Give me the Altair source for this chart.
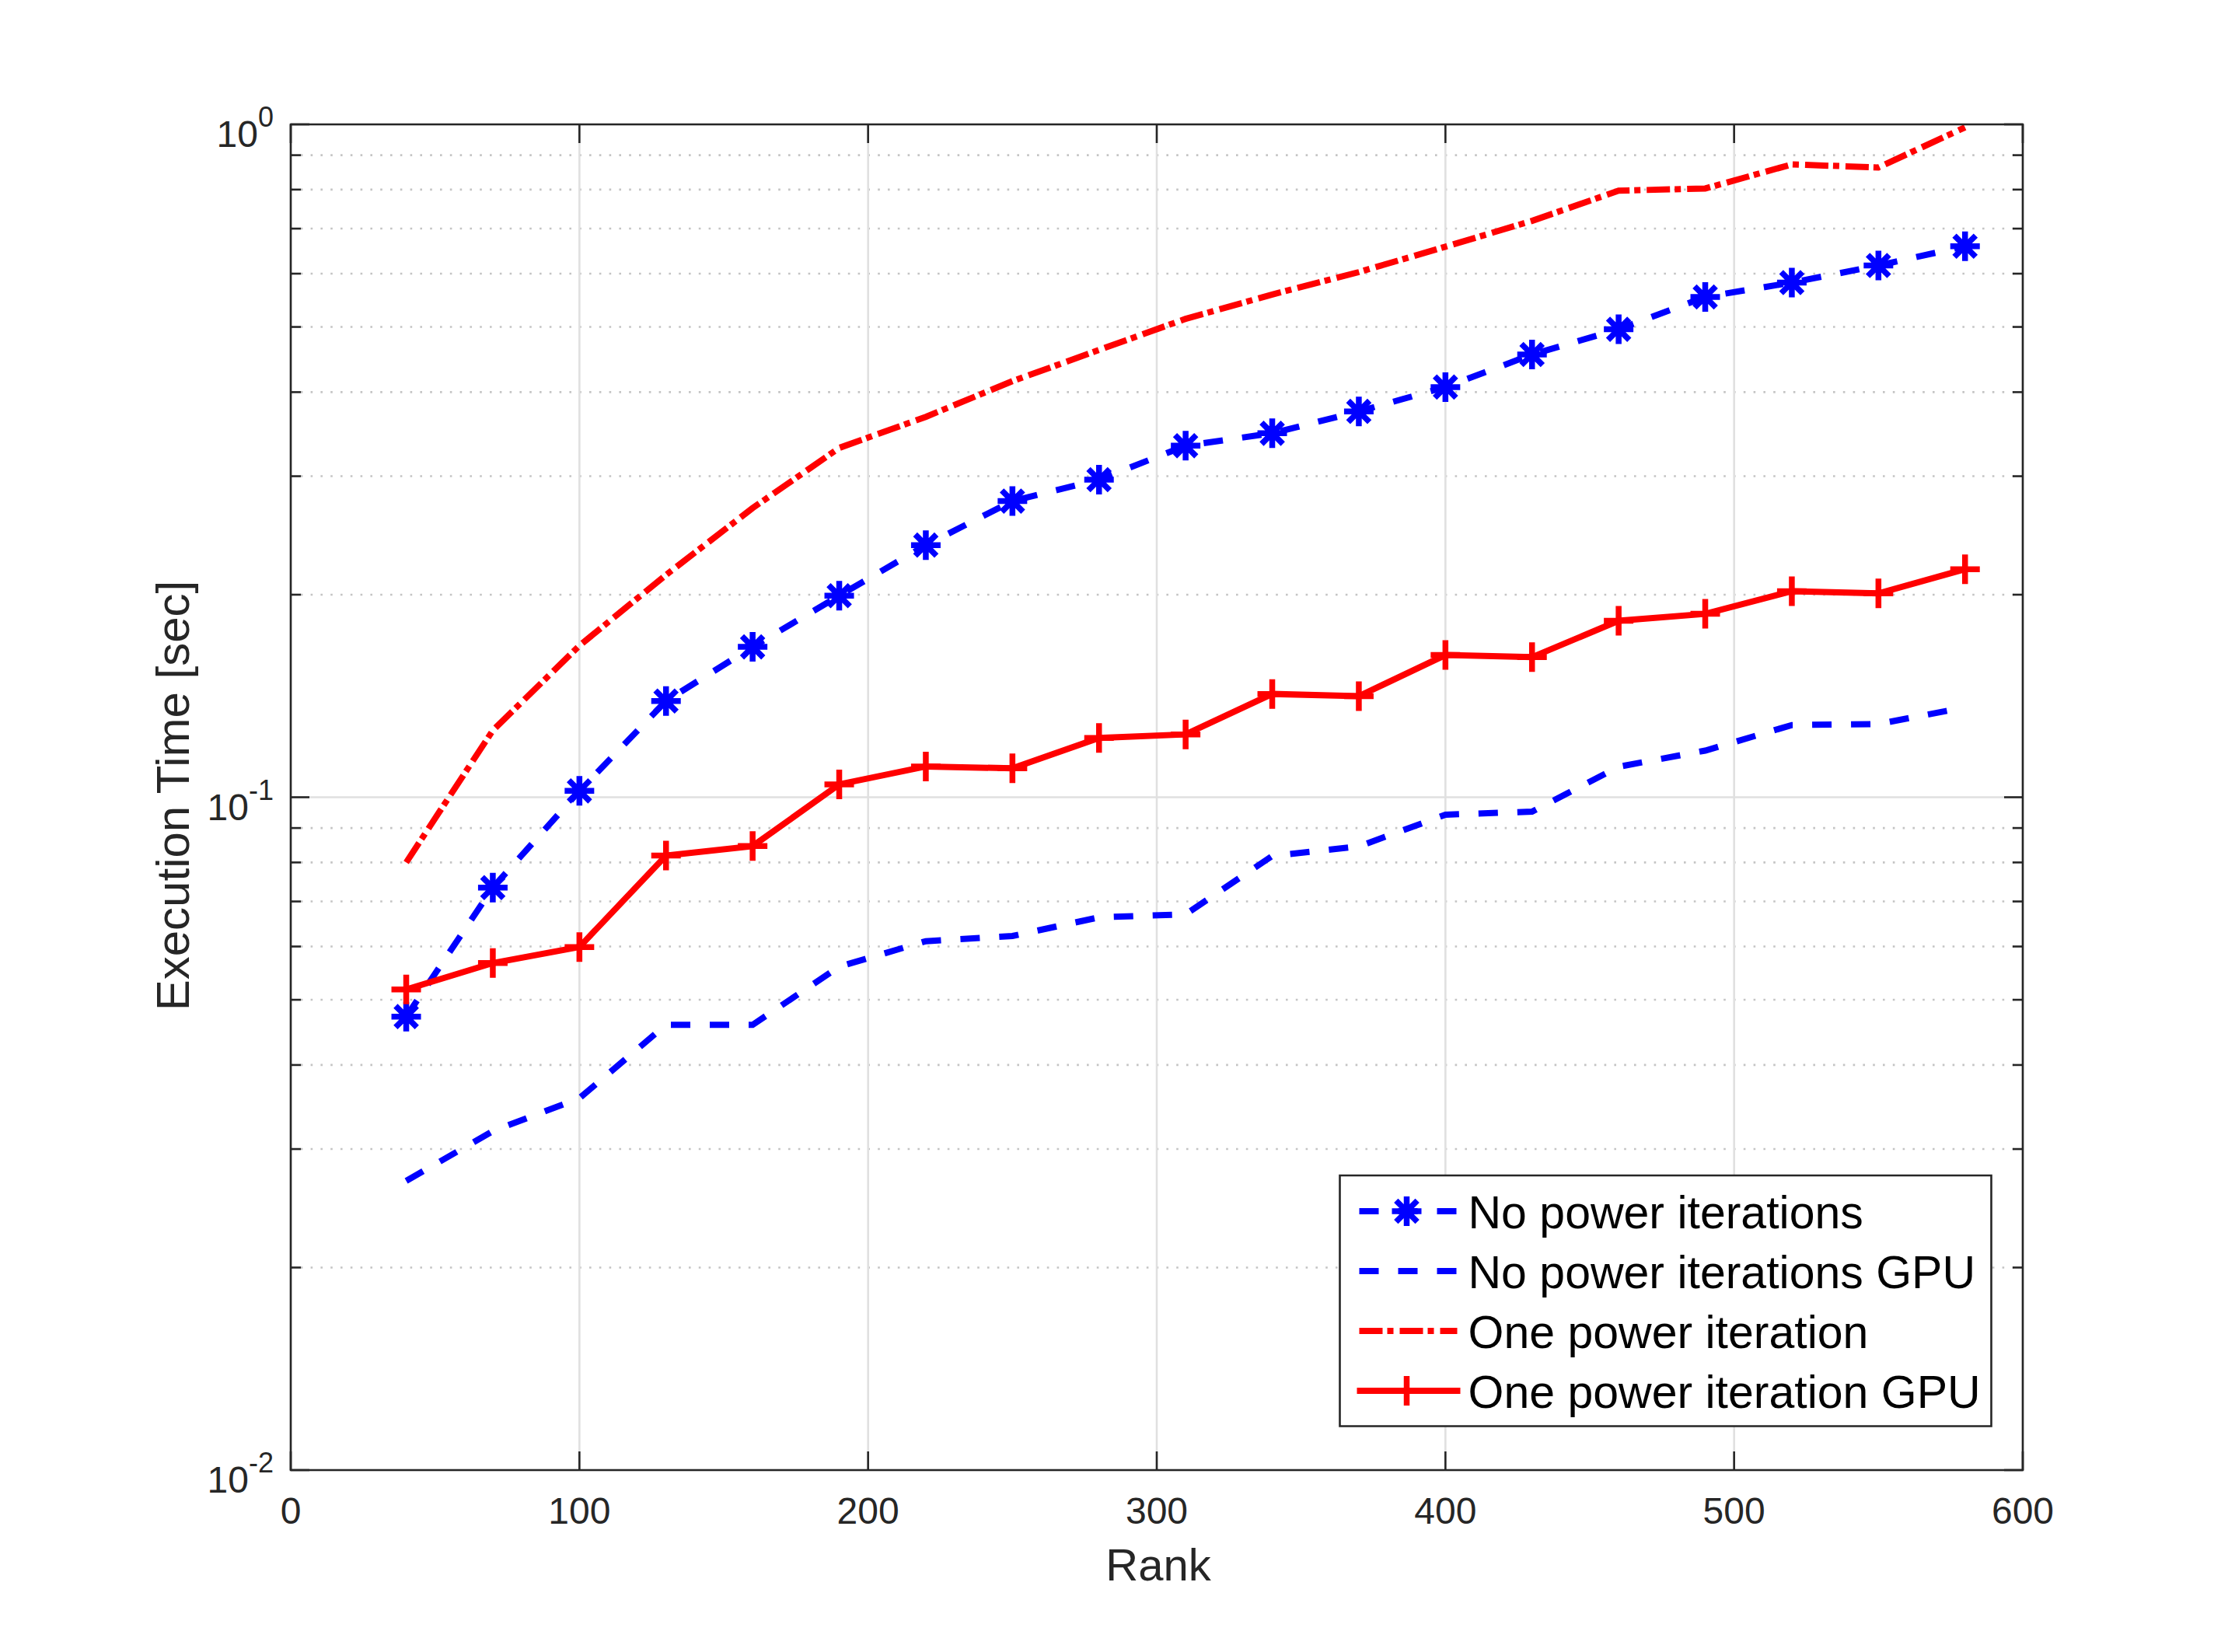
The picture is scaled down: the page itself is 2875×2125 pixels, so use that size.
import altair as alt
import pandas as pd

# ---------------- data ----------------
rank = [40, 70, 100, 130, 160, 190, 220, 250, 280, 310, 340, 370, 400, 430, 460, 490, 520, 550, 580]
no_power = [0.0472, 0.0734, 0.1022, 0.1390, 0.1673, 0.1993, 0.2370, 0.2755, 0.2965, 0.3330,
            0.3475, 0.3745, 0.4070, 0.4550, 0.4960, 0.5540, 0.5820, 0.6170, 0.6590]
no_power_gpu = [0.0269, 0.0319, 0.0357, 0.0459, 0.0459, 0.0560, 0.0611, 0.0622, 0.0663, 0.0670,
                0.0818, 0.0845, 0.0942, 0.0952, 0.1110, 0.1173, 0.1280, 0.1285, 0.1360]
one_power = [0.0800, 0.1257, 0.1680, 0.2140, 0.2690, 0.3305, 0.3676, 0.4153, 0.4622, 0.5140,
             0.5587, 0.6032, 0.6580, 0.7188, 0.7970, 0.8030, 0.8720, 0.8630, 0.9900]
one_power_gpu = [0.0518, 0.0567, 0.0599, 0.0819, 0.0846, 0.1045, 0.1111, 0.1104, 0.1225, 0.1240,
                 0.1424, 0.1413, 0.1627, 0.1615, 0.1829, 0.1873, 0.2024, 0.2009, 0.2182]

series_names = ["No power iterations", "No power iterations GPU",
                "One power iteration", "One power iteration GPU"]

x_ticks = [0, 100, 200, 300, 400, 500, 600]
y_major = [0.01, 0.1, 1.0]
y_exp = ["-2", "-1", "0"]
y_minor = [0.02, 0.03, 0.04, 0.05, 0.06, 0.07, 0.08, 0.09,
           0.2, 0.3, 0.4, 0.5, 0.6, 0.7, 0.8, 0.9]

x_title = "Rank"
y_title = "Execution Time [sec]"

# ---------------- styling ----------------
W, H = 2228, 1731
FONT = "Liberation Sans"
AX = "#262626"
BLUE = "#0000ff"
RED = "#ff0000"
LW = 8
MW = 7.5
STAR = "M0,-1L0,1M-1,0L1,0M-0.72,-0.72L0.72,0.72M-0.72,0.72L0.72,-0.72"
PLUS = "M0,-1L0,1M-1,0L1,0"
DASH = [25, 25]
DASHDOT = [30, 6, 8, 8]

xs = alt.Scale(domain=[0, 600], nice=False, zero=False)
ys = alt.Scale(type="log", domain=[0.01, 1], nice=False)


def X(f):
    return alt.X(f, scale=xs, axis=None)


def Y(f):
    return alt.Y(f, scale=ys, axis=None)


df_xt = pd.DataFrame({"v": x_ticks})
df_ymaj = pd.DataFrame({"v": y_major, "e": y_exp})
df_ymin = pd.DataFrame({"v": y_minor})
one = pd.DataFrame({"k": [0]})

layers = []

# grid
layers.append(alt.Chart(df_ymin).mark_rule(color="#c4c4c4", strokeWidth=2.6, strokeDash=[2.6, 10.2])
              .encode(y=Y("v:Q"), x=alt.value(0), x2=alt.value(W)))
layers.append(alt.Chart(df_ymaj).mark_rule(color="#e0e0e0", strokeWidth=2.6)
              .encode(y=Y("v:Q"), x=alt.value(0), x2=alt.value(W)))
layers.append(alt.Chart(df_xt).mark_rule(color="#e0e0e0", strokeWidth=2.6)
              .encode(x=X("v:Q"), y=alt.value(0), y2=alt.value(H)))

# ticks (inward)
for y0, y1 in [(H, H - 24), (0, 24)]:
    layers.append(alt.Chart(df_xt).mark_rule(color=AX, strokeWidth=2.6)
                  .encode(x=X("v:Q"), y=alt.value(y0), y2=alt.value(y1)))
for x0, x1 in [(0, 24), (W, W - 24)]:
    layers.append(alt.Chart(df_ymaj).mark_rule(color=AX, strokeWidth=2.6)
                  .encode(y=Y("v:Q"), x=alt.value(x0), x2=alt.value(x1)))
for x0, x1 in [(0, 13), (W, W - 13)]:
    layers.append(alt.Chart(df_ymin).mark_rule(color=AX, strokeWidth=2.6)
                  .encode(y=Y("v:Q"), x=alt.value(x0), x2=alt.value(x1)))

# data series
series = [
    (no_power, BLUE, DASH, STAR),
    (no_power_gpu, BLUE, DASH, None),
    (one_power, RED, DASHDOT, None),
    (one_power_gpu, RED, None, PLUS),
]
for vals, col, dash, marker in series:
    d = pd.DataFrame({"rank": rank, "time": vals})
    lk = dict(color=col, strokeWidth=LW)
    if dash:
        lk["strokeDash"] = dash
    layers.append(alt.Chart(d).mark_line(**lk).encode(x=X("rank:Q"), y=Y("time:Q")))
    if marker:
        layers.append(alt.Chart(d).mark_point(shape=marker, size=1444, filled=False, stroke=col,
                                              strokeWidth=MW, opacity=1)
                      .encode(x=X("rank:Q"), y=Y("time:Q")))

# box
layers.append(alt.Chart(one).mark_rect(fillOpacity=0, stroke=AX, strokeWidth=2.6)
              .encode(x=alt.value(0), x2=alt.value(W), y=alt.value(0), y2=alt.value(H)))

# tick labels
layers.append(alt.Chart(df_xt).mark_text(font=FONT, fontSize=48, color=AX, align="center",
                                         baseline="alphabetic")
              .encode(x=X("v:Q"), y=alt.value(H + 69), text=alt.Text("v:Q", format="d")))
layers.append(alt.Chart(df_ymaj).transform_filter("datum.e == '0'")
              .mark_text(font=FONT, fontSize=48, color=AX, align="right", baseline="alphabetic",
                         dx=-42, dy=29)
              .encode(y=Y("v:Q"), x=alt.value(0), text=alt.value("10")))
layers.append(alt.Chart(df_ymaj).transform_filter("datum.e != '0'")
              .mark_text(font=FONT, fontSize=48, color=AX, align="right", baseline="alphabetic",
                         dx=-54, dy=29)
              .encode(y=Y("v:Q"), x=alt.value(0), text=alt.value("10")))
layers.append(alt.Chart(df_ymaj)
              .mark_text(font=FONT, fontSize=36, color=AX, align="right", baseline="alphabetic",
                         dx=-22, dy=3)
              .encode(y=Y("v:Q"), x=alt.value(0), text="e:N"))

# axis titles
layers.append(alt.Chart(one).mark_text(font=FONT, fontSize=58, color=AX, align="center",
                                       baseline="alphabetic")
              .encode(x=alt.value(W / 2 + 2), y=alt.value(H + 142), text=alt.value(x_title)))
layers.append(alt.Chart(one).mark_text(font=FONT, fontSize=60, color=AX, align="center",
                                       baseline="alphabetic", angle=270)
              .encode(x=alt.value(-131), y=alt.value(H / 2 - 2), text=alt.value(y_title)))

# legend
LX0, LX1, LY0, LY1 = 1349.5, 2187.5, 1352, 1674.5
layers.append(alt.Chart(one).mark_rect(fill="white", stroke=AX, strokeWidth=2.6)
              .encode(x=alt.value(LX0), x2=alt.value(LX1), y=alt.value(LY0), y2=alt.value(LY1)))
rows = [1398, 1475, 1552, 1629]
for (vals, col, dash, marker), name, ry in zip(series, series_names, rows):
    lk = dict(color=col, strokeWidth=LW)
    if dash:
        lk["strokeDash"] = dash
        xa, xb = 1374.5, 1500.5
    else:
        xa, xb = 1371.5, 1504.5
    layers.append(alt.Chart(one).mark_rule(**lk)
                  .encode(x=alt.value(xa), x2=alt.value(xb), y=alt.value(ry)))
    if marker:
        layers.append(alt.Chart(one).mark_point(shape=marker, size=1444, filled=False, stroke=col,
                                                strokeWidth=MW, opacity=1)
                      .encode(x=alt.value(1435.5), y=alt.value(ry)))
    layers.append(alt.Chart(pd.DataFrame({"name": [name]}))
                  .mark_text(font=FONT, fontSize=59, color="black", align="left",
                             baseline="alphabetic")
                  .encode(x=alt.value(1514.5), y=alt.value(ry + 22), text="name:N"))

chart = (alt.layer(*layers)
         .properties(width=W, height=H,
                     padding={"left": 366, "top": 152, "right": 260, "bottom": 220},
                     autosize=alt.AutoSizeParams(type="none"),
                     background="white")
         .configure_view(stroke=None))

chart.save("out.html", embed_options={"renderer": "svg", "actions": False})
